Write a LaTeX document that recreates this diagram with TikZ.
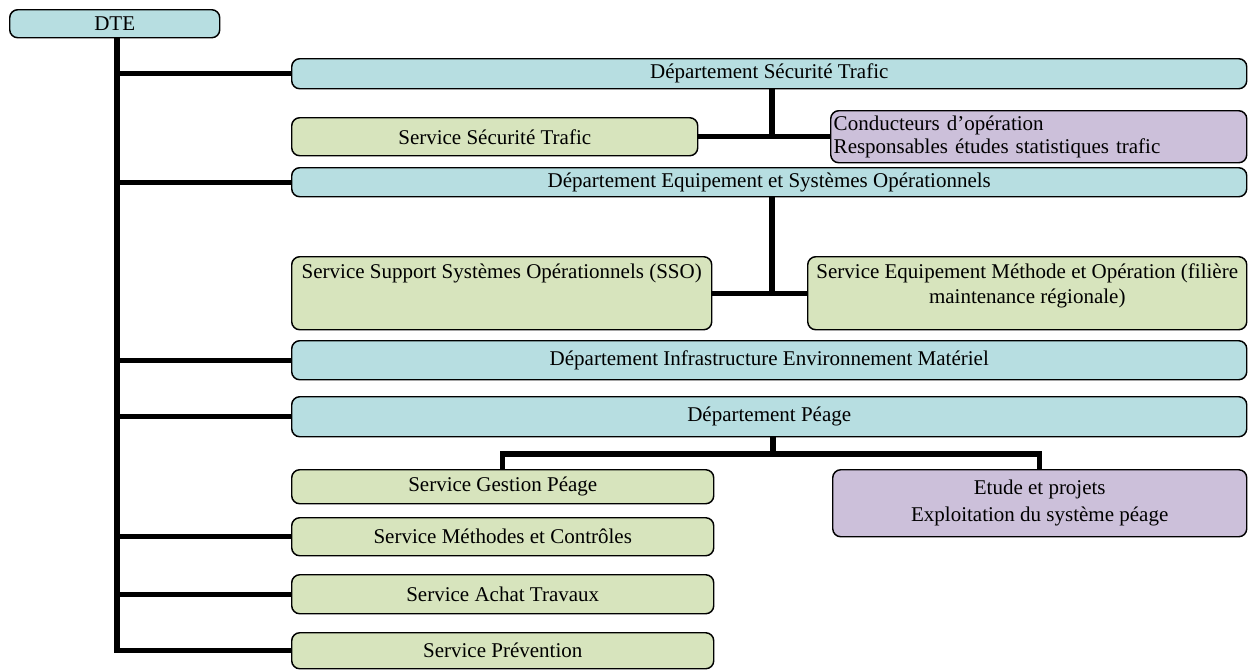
\documentclass[tikz,border=0pt]{standalone}
\usepackage{fontspec}
\setmainfont{Liberation Serif}
\usetikzlibrary{backgrounds}
\definecolor{cyanfill}{RGB}{183,222,225}
\definecolor{greenfill}{RGB}{215,228,189}
\definecolor{purplefill}{RGB}{204,192,218}
\tikzset{
  box/.style={draw=black, line width=1.1pt, rounded corners=6pt, anchor=north west,
    inner sep=2pt, font=\fontsize{15.75pt}{18.75pt}\selectfont},
  deptbox/.style={box, fill=cyanfill},
  servbox/.style={box, fill=greenfill},
  teambox/.style={box, fill=purplefill},
  topalign/.style={text height=12pt, text depth=33.75pt},
  conn/.style={draw=black, line width=4pt, line cap=rect},
}
\begin{document}
\begin{tikzpicture}[x=0.75pt, y=-0.75pt]
\useasboundingbox (0,0) rectangle (1252,669);
\node[deptbox, minimum width=210*0.75pt, minimum height=28*0.75pt] (dte) at (9,9) {DTE};
\node[deptbox, minimum width=955*0.75pt, minimum height=30*0.75pt] (ds) at (291,58) {Département Sécurité Trafic};
\node[servbox, minimum width=406*0.75pt, minimum height=38*0.75pt] (sst) at (291,117) {Service Sécurité Trafic};
\node[teambox, minimum width=416*0.75pt, minimum height=52*0.75pt, text width=410*0.75pt, align=left, inner sep=1pt] (co) at (830,110) {Conducteurs d’opération\\[-1.5pt]Responsables études statistiques trafic};
\node[deptbox, minimum width=955*0.75pt, minimum height=29*0.75pt] (de) at (291,167) {Département Equipement et Systèmes Opérationnels};
\node[servbox, topalign, minimum width=420*0.75pt, minimum height=73*0.75pt] (sso) at (291,256) {Service Support Systèmes Opérationnels (SSO)};
\node[servbox, topalign, minimum width=439*0.75pt, minimum height=73*0.75pt, inner sep=1pt] (sem) at (807,256) {\parbox[t]{325pt}{\centering Service Equipement Méthode et Opération (filière\\maintenance régionale)}};
\node[deptbox, minimum width=955*0.75pt, minimum height=39*0.75pt] (di) at (291,340) {Département Infrastructure Environnement Matériel};
\node[deptbox, minimum width=955*0.75pt, minimum height=40*0.75pt] (dp) at (291,396) {Département Péage};
\node[servbox, minimum width=422*0.75pt, minimum height=34*0.75pt] (sgp) at (291,469) {Service Gestion Péage};
\node[teambox, minimum width=414*0.75pt, minimum height=67*0.75pt, align=center] (ep) at (832,469) {Etude et projets\\[1.5pt]Exploitation du système péage};
\node[servbox, minimum width=422*0.75pt, minimum height=38*0.75pt] (smc) at (291,517) {Service Méthodes et Contrôles};
\node[servbox, minimum width=422*0.75pt, minimum height=39*0.75pt] (sat) at (291,574) {Service Achat Travaux};
\node[servbox, minimum width=422*0.75pt, minimum height=36*0.75pt] (spr) at (291,632) {Service Prévention};
\coordinate (tx) at (117,0);
\coordinate (ax) at (772,0);
\coordinate (bj) at (773,454);
\begin{scope}[on background layer]
\draw[conn] (tx |- dte.south) -- (tx |- spr.west) -- (spr.west);
\draw[conn] (tx |- ds.west) -- (ds.west);
\draw[conn] (tx |- de.west) -- (de.west);
\draw[conn] (tx |- di.west) -- (di.west);
\draw[conn] (tx |- dp.west) -- (dp.west);
\draw[conn] (tx |- smc.west) -- (smc.west);
\draw[conn] (tx |- sat.west) -- (sat.west);
\draw[conn] (ax |- ds.south) -- (ax |- sst.east);
\draw[conn] (sst.east) -- (co.west);
\draw[conn] (ax |- de.south) -- (ax |- sso.east);
\draw[conn] (sso.east) -- (sem.west);
\draw[conn] (bj |- dp.south) -- (bj);
\draw[conn] (sgp.north) -- (sgp.north |- bj) -- (ep.north |- bj) -- (ep.north);
\end{scope}
\end{tikzpicture}
\end{document}
